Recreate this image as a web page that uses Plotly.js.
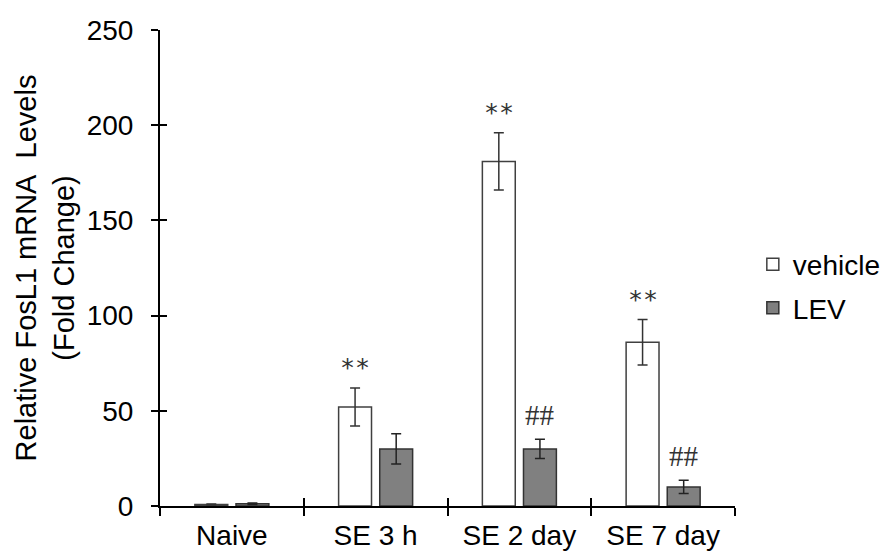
<!DOCTYPE html>
<html>
<head>
<meta charset="utf-8">
<script src="https://cdn.plot.ly/plotly-3.0.1.min.js"></script>
<style>html,body{margin:0;padding:0;background:#fff;}#chart{width:888px;height:555px;}</style>
</head>
<body>
<div id="chart"></div>
<script>
var categories = ["Naive", "SE 3 h", "SE 2 day", "SE 7 day"];
var vehicleValues = [0.8, 52, 181, 86];
var vehicleErrors = [0.3, 10, 15, 12];
var levValues = [1.2, 30, 30, 10];
var levErrors = [0.4, 8, 5, 3.5];
var vehicleMarks = ["", "**", "**", "**"];
var levMarks = ["", "", "##", "##"];
var yTickVals = [0, 50, 100, 150, 200, 250];

var FONT = "Liberation Sans, Arial, sans-serif";
var SERIF = "Liberation Serif, Times New Roman, serif";
var MONO = "DejaVu Sans Mono, monospace";

var traces = [
  {
    type: "bar", name: "vehicle", x: categories, y: vehicleValues, legendgroup: "v",
    marker: {color: "#ffffff", line: {color: "#404040", width: 1.5}},
    error_y: {type: "data", array: vehicleErrors, visible: true, color: "#333333", thickness: 1.5, width: 5}
  },
  {
    type: "bar", name: "LEV", x: categories, y: levValues, legendgroup: "l",
    marker: {color: "#808080", line: {color: "#333333", width: 1.5}},
    error_y: {type: "data", array: levErrors, visible: true, color: "#222222", thickness: 1.5, width: 5}
  },
  {
    type: "scatter", mode: "markers", x: [0], y: [0], xaxis: "x2", yaxis: "y2",
    marker: {opacity: 0}, showlegend: false, hoverinfo: "skip"
  }
];

var annotations = [];
for (var i = 0; i < categories.length; i++) {
  if (vehicleMarks[i]) {
    annotations.push({
      x: i - 0.143, y: vehicleValues[i] + vehicleErrors[i], xref: "x", yref: "y",
      text: vehicleMarks[i], showarrow: false, yanchor: "middle", yshift: 20,
      font: {family: MONO, size: 25, color: "#333333"}
    });
  }
  if (levMarks[i]) {
    annotations.push({
      x: i + 0.143, y: levValues[i] + levErrors[i], xref: "x", yref: "y",
      text: levMarks[i], showarrow: false, yanchor: "middle", yshift: 24,
      font: {family: SERIF, size: 29, color: "#333333"}
    });
  }
}

var layout = {
  width: 888, height: 555,
  margin: {l: 160, r: 153, t: 30, b: 49, autoexpand: false},
  paper_bgcolor: "#ffffff", plot_bgcolor: "#ffffff",
  barmode: "group", bargap: 0.428, bargroupgap: 0.2,
  showlegend: true,
  legend: {x: 1.031, xanchor: "left", y: 0.462, yanchor: "middle",
           font: {family: FONT, size: 28, color: "#000000"}, tracegroupgap: 4},
  xaxis: {
    type: "category", range: [-0.5, 3.5], tickson: "boundaries",
    showline: true, linecolor: "#000000", linewidth: 2,
    ticks: "outside", ticklen: 8, tickwidth: 2, tickcolor: "#000000",
    showgrid: false, zeroline: false, ticklabelstandoff: 3,
    tickfont: {family: FONT, size: 28, color: "#000000"}
  },
  xaxis2: {
    type: "linear", overlaying: "x", anchor: "y", range: [-0.5, 3.5],
    tickvals: [-0.5, 0.5, 1.5, 2.5, 3.5], ticks: "inside", ticklen: 8, tickwidth: 2, tickcolor: "#000000",
    showticklabels: false, showline: false, showgrid: false, zeroline: false
  },
  yaxis: {
    range: [0, 250], tickvals: yTickVals,
    showline: true, linecolor: "#000000", linewidth: 2,
    ticks: "outside", ticklen: 7, tickwidth: 2, tickcolor: "#000000",
    showgrid: false, zeroline: false, ticklabelstandoff: 12,
    tickfont: {family: FONT, size: 28, color: "#000000"},
    title: {text: "Relative FosL1 mRNA\u00a0 Levels<br>(Fold Change)", standoff: 4,
            font: {family: FONT, size: 29, color: "#000000"}}
  },
  yaxis2: {
    overlaying: "y", anchor: "x", range: [0, 250], tickvals: yTickVals,
    ticks: "inside", ticklen: 7, tickwidth: 2, tickcolor: "#000000",
    showticklabels: false, showline: false, showgrid: false, zeroline: false
  },
  annotations: annotations
};

Plotly.newPlot("chart", traces, layout, {displayModeBar: false, staticPlot: true});
</script>
</body>
</html>
